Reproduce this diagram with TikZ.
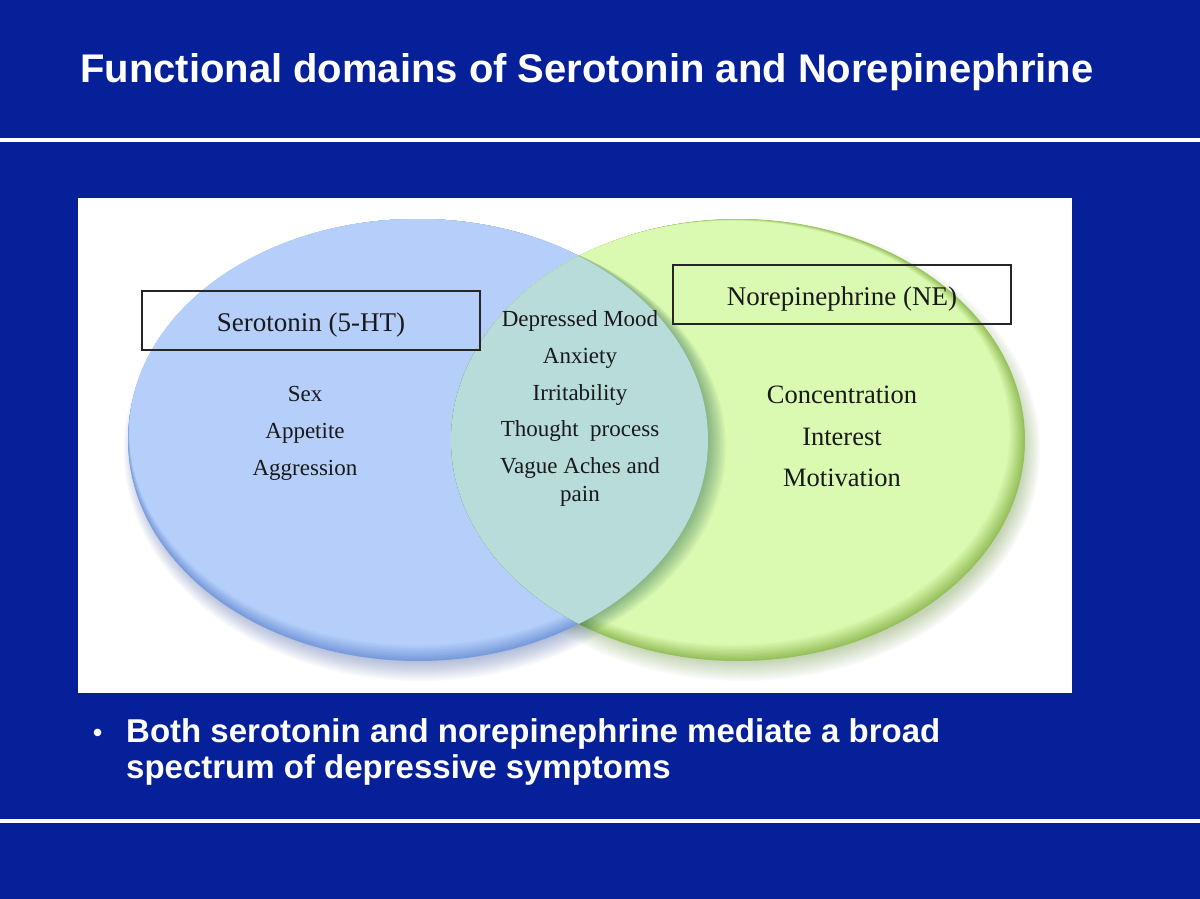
\documentclass[tikz,border=0pt]{standalone}
\usepackage{fontspec}
\setmainfont{Liberation Serif}
\newfontfamily\headfont{Liberation Sans}
\usetikzlibrary{calc}
\definecolor{bgblue}{RGB}{6,32,154}
\definecolor{vblue}{RGB}{181,207,250}
\definecolor{vgreen}{RGB}{219,250,177}
\definecolor{vlens}{RGB}{184,220,218}
\definecolor{rimgreen}{RGB}{150,192,92}
\definecolor{rimblue}{RGB}{120,155,220}
\definecolor{shblue}{RGB}{40,70,160}
\definecolor{shgreen}{RGB}{95,140,45}
\definecolor{lensshadow}{RGB}{40,100,80}
\definecolor{txt}{RGB}{25,25,25}
\tikzset{
  headtext/.style={text=white, inner sep=0pt, font=\headfont\bfseries\fontsize{40}{48}\selectfont},
  bullettext/.style={text=white, inner sep=0pt, align=left, font=\headfont\bfseries\fontsize{33}{36}\selectfont},
  labelbox/.style={draw=black!85, line width=1.8pt, minimum width=338pt, minimum height=59pt, inner sep=0pt, text=txt, font=\fontsize{27}{30}\selectfont, text depth=0pt},
  itemtext/.style={text=txt, inner sep=0pt, anchor=base, font=\fontsize{23}{28}\selectfont},
  netext/.style={text=txt, inner sep=0pt, anchor=base, font=\fontsize{26.5}{30}\selectfont},
  whiteline/.style={draw=white, line width=4pt}
}
\begin{document}
\begin{tikzpicture}[x=1pt,y=-1pt]
\useasboundingbox (0,0) rectangle (1200,899);
\fill[bgblue] (0,0) rectangle (1200,899);
% rules
\coordinate (rl1) at (0,140);
\coordinate (rr1) at (1200,140);
\coordinate (rl2) at (0,821);
\coordinate (rr2) at (1200,821);
\draw[whiteline] (rl1) -- (rr1);
\draw[whiteline] (rl2) -- (rr2);
% title
\node[headtext, anchor=base west] (title) at (80,82) {Functional domains of Serotonin and Norepinephrine};
% panel
\fill[white] (78,198) rectangle (1072,693);
% ellipse centres
\coordinate (bc) at (418,440);
\coordinate (gc) at (738,440);
% outer shadows
\foreach \i in {1,...,14} {
  \fill[shblue, opacity=0.028] ($(bc)+(3,10)$) ellipse [x radius={282+\i*1.1}, y radius={210+\i*1.5}];
  \fill[shgreen, opacity=0.028] ($(gc)+(5,10)$) ellipse [x radius={279+\i*1.3}, y radius={210+\i*1.5}];
}
% blue ellipse with rim (mainly at the bottom)
\fill[rimblue] (bc) ellipse [x radius=290, y radius=221];
\foreach \i in {1,...,10} {
  \pgfmathtruncatemacro\p{\i*10}
  \fill[vblue!\p!rimblue] ($(bc)+(-0.1*\i,-0.8*\i)$) ellipse [x radius={290-0.25*\i}, y radius={221-0.8*\i}];
}
% green ellipse with rim
\fill[rimgreen] (gc) ellipse [x radius=287, y radius=221];
\foreach \i in {1,...,12} {
  \pgfmathtruncatemacro\p{round(\i*100/12)}
  \fill[vgreen!\p!rimgreen] ($(gc)+(-0.5*\i,-0.6*\i)$) ellipse [x radius={287-0.8*\i}, y radius={221-0.75*\i}];
}
% shadow of lens onto green crescent
\begin{scope}
  \clip (gc) ellipse [x radius=287, y radius=221];
  \foreach \i in {1,...,12} {
    \fill[lensshadow, opacity=0.045] ($(bc)+(\i*1.5,\i*0.6)$) ellipse [x radius=290, y radius=221];
  }
\end{scope}
% lens
\begin{scope}
  \clip (bc) ellipse [x radius=290, y radius=221];
  \fill[vlens] (gc) ellipse [x radius=287, y radius=221];
\end{scope}
% label boxes
\node[labelbox, text height=22.4pt] (sero) at (311,320.5) {Serotonin (5-HT)};
\node[labelbox, text height=21pt] (nore) at (842,294.5) {Norepinephrine (NE)};
% serotonin items
\node[itemtext] (sex) at (305,401.7) {Sex};
\node[itemtext] (appetite) at (305,438) {Appetite};
\node[itemtext] (aggr) at (305,475) {Aggression};
% shared items
\node[itemtext] (mood) at (580,326.7) {Depressed Mood};
\node[itemtext] (anx) at (580,363) {Anxiety};
\node[itemtext] (irr) at (580,400.7) {Irritability};
\node[itemtext] (thought) at (580,436.7) {Thought\ \ process};
\node[itemtext, align=center, font=\fontsize{23}{28}\selectfont] (vague) at (580,501) {Vague Aches and\\pain};
% NE items
\node[netext] (conc) at (842,403.3) {Concentration};
\node[netext] (interest) at (842,445) {Interest};
\node[netext] (motiv) at (842,486.7) {Motivation};
% bullet
\node[text=white, inner sep=0pt, anchor=base west, font=\headfont\bfseries\fontsize{26}{30}\selectfont] (dot) at (93,741) {•};
\node[bullettext, anchor=base west] (bulletline) at (126,778) {Both serotonin and norepinephrine mediate a broad\\spectrum of depressive symptoms};
\end{tikzpicture}
\end{document}
